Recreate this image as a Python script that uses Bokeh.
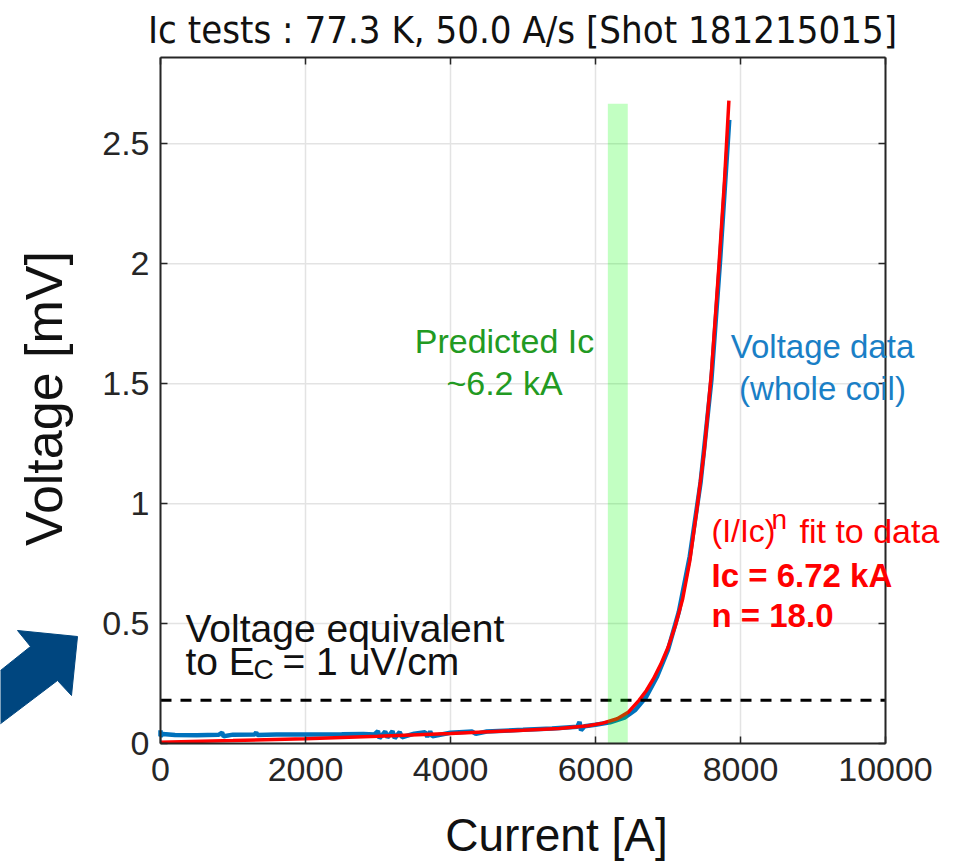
import math
from bokeh.plotting import figure
from bokeh.models import Range1d, FixedTicker, LinearAxis, Label
from bokeh.embed import file_html
from bokeh.resources import INLINE

# ---------------- data ----------------
# measured voltage of the whole coil: current [A], voltage [mV]
data_current = [0, 0, 30, 200, 500, 800, 850, 870, 1000, 1300, 1320, 1340, 1600, 2000,
                2500, 2800, 2950, 3000, 3020, 3100, 3130, 3200, 3230, 3300, 3330, 3500,
                3650, 3680, 3720, 3750, 4000, 4300, 4350, 4500, 5000, 5400, 5750, 5780,
                5800, 5850, 6000, 6200, 6400, 6550, 6700, 6850, 7000, 7150, 7300, 7450,
                7600, 7720, 7845]
data_voltage = [0.055, 0.030, 0.040, 0.035, 0.034, 0.036, 0.045, 0.030, 0.037, 0.038,
                0.046, 0.035, 0.038, 0.038, 0.039, 0.040, 0.038, 0.052, 0.022, 0.050,
                0.025, 0.052, 0.022, 0.048, 0.026, 0.041, 0.047, 0.028, 0.050, 0.030,
                0.045, 0.050, 0.040, 0.050, 0.057, 0.063, 0.070, 0.090, 0.055, 0.072,
                0.078, 0.088, 0.108, 0.140, 0.195, 0.280, 0.390, 0.550, 0.780, 1.090,
                1.520, 2.020, 2.600]

# (I/Ic)^n fit, Ic = 6.72 kA, n = 18.0
fit_current = [0, 1000, 2000, 3000, 4000, 5000, 5500, 5900, 6100, 6300, 6450, 6600,
               6700, 6800, 6900, 7000, 7100, 7200, 7300, 7400, 7500, 7600, 7700, 7780, 7840]
fit_voltage = [0.005, 0.012, 0.020, 0.030, 0.042, 0.055, 0.063, 0.074, 0.085, 0.103,
               0.130, 0.180, 0.220, 0.270, 0.330, 0.400, 0.490, 0.600, 0.760, 0.980,
               1.220, 1.550, 1.980, 2.350, 2.680]

# voltage equivalent to Ec = 1 uV/cm
ec_current = [0, 10000]
ec_voltage = [0.18, 0.18]

# predicted Ic band
band_left = [6170]
band_right = [6445]
band_bottom = [0]
band_top = [2.667]

# axes
x_limits = [0, 10000]
y_limits = [0, 2.86]
x_ticks = [0, 2000, 4000, 6000, 8000, 10000]
y_ticks = [0, 0.5, 1, 1.5, 2, 2.5]
y_tick_labels = ["0", "0.5", "1", "1.5", "2", "2.5"]

title_text = "Ic tests : 77.3 K, 50.0 A/s [Shot 181215015]"
x_label = "Current [A]"
y_label = "Voltage [mV]"

# ---------------- layout geometry (pixels of the page) ----------------
W, H = 969, 864
AX_L, AX_R, AX_T, AX_B = 160, 885, 57, 743          # axes box in page pixels
sx = (AX_R - AX_L) / (x_limits[1] - x_limits[0])
sy = (AX_B - AX_T) / (y_limits[1] - y_limits[0])


def px(xp):
    return x_limits[0] + (xp - AX_L) / sx


def py(yp):
    return y_limits[0] + (AX_B - yp) / sy


FONT = "Liberation Sans"
AXC = "#262626"

p = figure(width=W, height=H, output_backend="svg", toolbar_location=None,
           x_range=Range1d(px(0), px(W)), y_range=Range1d(py(H), py(0)),
           min_border=0)
p.background_fill_color = "white"
p.border_fill_color = "white"
p.outline_line_color = None
p.grid.visible = False


def style_axis(ax, labels=True):
    ax.major_tick_in = 7
    ax.major_tick_out = 0
    ax.minor_tick_in = 0
    ax.minor_tick_out = 0
    ax.axis_line_color = AXC
    ax.axis_line_width = 2
    ax.major_tick_line_color = AXC
    ax.major_tick_line_width = 1.5
    ax.major_label_text_font = FONT
    ax.major_label_text_font_size = "34px" if labels else "0px"
    ax.major_label_text_color = AXC
    if not labels:
        ax.major_label_text_alpha = 0


xa = p.xaxis[0]
xa.ticker = FixedTicker(ticks=x_ticks)
xa.fixed_location = y_limits[0]
xa.bounds = tuple(x_limits)
style_axis(xa)
xa.major_label_standoff = 14

ya = p.yaxis[0]
ya.ticker = FixedTicker(ticks=y_ticks)
ya.fixed_location = x_limits[0]
ya.bounds = tuple(y_limits)
ya.major_label_overrides = {t: s for t, s in zip(y_ticks, y_tick_labels)}
style_axis(ya)
ya.major_label_standoff = 11

top = LinearAxis(ticker=FixedTicker(ticks=x_ticks), fixed_location=y_limits[1],
                 bounds=tuple(x_limits))
style_axis(top, labels=False)
p.add_layout(top, "above")
right = LinearAxis(ticker=FixedTicker(ticks=y_ticks), fixed_location=x_limits[1],
                   bounds=tuple(y_limits))
style_axis(right, labels=False)
p.add_layout(right, "right")

# grid lines at the tick positions
GRID = "#e3e3e3"
p.segment(x0=x_ticks, y0=[y_limits[0]] * len(x_ticks), x1=x_ticks,
          y1=[y_limits[1]] * len(x_ticks), line_color=GRID, line_width=1.5)
p.segment(x0=[x_limits[0]] * len(y_ticks), y0=y_ticks, x1=[x_limits[1]] * len(y_ticks),
          y1=y_ticks, line_color=GRID, line_width=1.5)

# ---------------- glyphs ----------------
p.line(data_current, data_voltage, line_color="#0072BD", line_width=4.5)
p.line(fit_current, fit_voltage, line_color="#ff0000", line_width=3.5)
p.line(ec_current, ec_voltage, line_color="black", line_width=3, line_dash="11 9")
p.quad(left=band_left, right=band_right, bottom=band_bottom, top=band_top,
       fill_color="#00ff00", fill_alpha=0.24, line_color=None)


# ---------------- texts ----------------
def add_label(xp, yp, text, color, size, align="left", style="normal", font=FONT,
              angle=0.0):
    p.add_layout(Label(x=px(xp), y=py(yp), text=text, text_color=color, text_font=font,
                       text_font_size=size, text_align=align, text_baseline="middle",
                       text_font_style=style, angle=angle))


add_label(522, 29, title_text, "#111111", "38px", align="center",
          font="Liberation Sans Narrow, DejaVu Sans Condensed, sans-serif")
add_label(556, 834, x_label, "#111111", "46px", align="center")
add_label(43, 398, y_label, "#111111", "52px", align="center", angle=math.pi / 2)

GREEN = "#229a22"
add_label(504, 340, "Predicted Ic", GREEN, "34px", align="center")
add_label(504, 382, "~6.2 kA", GREEN, "34px", align="center")

BLUE = "#1a7fc6"
add_label(822, 346, "Voltage data", BLUE, "33px", align="center")
add_label(822, 388, "(whole coil)", BLUE, "33px", align="center")

BLACK = "#111111"
add_label(185, 628, "Voltage equivalent", BLACK, "39px")
add_label(185, 661, "to E", BLACK, "39px")
add_label(253, 669, "C", BLACK, "28px")
add_label(282, 661, "= 1 uV/cm", BLACK, "39px")

RED = "#ff0000"
add_label(711, 530, "(I/Ic)", RED, "32px")
add_label(771, 519, "n", RED, "28px")
add_label(799, 530, "fit to data", RED, "34px")
add_label(711, 575, "Ic = 6.72 kA", RED, "33px", style="bold")
add_label(711, 615, "n = 18.0", RED, "33px", style="bold")

# decorative arrow at the left edge pointing at the dashed line
arrow_x = [77, 17, 30, -5, -5, 57, 71]
arrow_y = [636, 630, 646, 674, 727, 680, 695]
p.patch([px(v) for v in arrow_x], [py(v) for v in arrow_y], fill_color="#00467f",
        line_color="#00467f", line_width=1)

open("out.html", "w").write(file_html(p, INLINE))
